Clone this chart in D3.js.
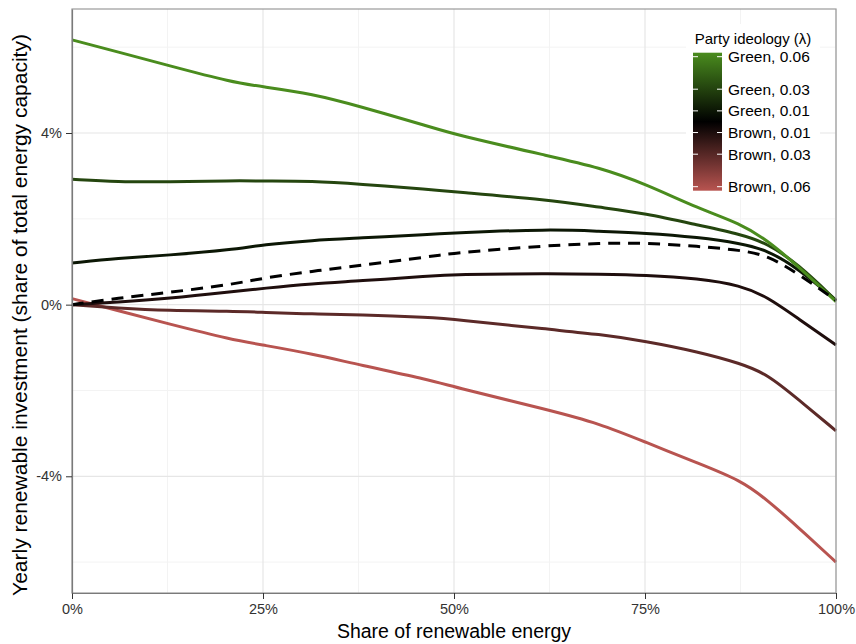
<!DOCTYPE html>
<html>
<head>
<meta charset="utf-8">
<script src="https://cdn.jsdelivr.net/npm/d3@7"></script>
<style>
  body { margin: 0; background: #fff; }
  svg text { font-family: "Liberation Sans", Arial, sans-serif; }
</style>
</head>
<body>
<svg id="chart" width="856" height="644"></svg>
<script>
// Share of renewable energy (%) where each curve was read
const shareX = [0, 6, 12.5, 21, 25, 31.5, 37.5, 47, 50, 62.5, 69, 75, 82, 87.5, 91, 95, 100];

// Yearly renewable investment (%) per party ideology
const green06 = [6.17, 5.89, 5.58, 5.18, 5.08, 4.91, 4.63, 4.14, 3.97, 3.46, 3.20, 2.82, 2.24, 1.89, 1.50, 0.90, 0.07];
const green03 = [2.92, 2.86, 2.86, 2.89, 2.88, 2.88, 2.81, 2.68, 2.63, 2.44, 2.27, 2.13, 1.85, 1.64, 1.43, 0.95, 0.10];
const green01 = [0.97, 1.08, 1.15, 1.28, 1.40, 1.50, 1.55, 1.64, 1.67, 1.76, 1.71, 1.67, 1.57, 1.43, 1.27, 0.85, 0.10];
const brown01 = [0.00, 0.06, 0.14, 0.30, 0.38, 0.49, 0.55, 0.67, 0.70, 0.73, 0.71, 0.69, 0.61, 0.45, 0.18, -0.32, -0.94];
const brown03 = [0.00, -0.08, -0.14, -0.15, -0.18, -0.22, -0.23, -0.30, -0.34, -0.58, -0.69, -0.85, -1.10, -1.37, -1.62, -2.20, -2.94];
const brown06 = [0.14, -0.14, -0.44, -0.82, -0.94, -1.15, -1.40, -1.76, -1.92, -2.46, -2.77, -3.20, -3.70, -4.09, -4.55, -5.18, -6.00];
// dashed reference curve
const neutral = [0.00, 0.15, 0.28, 0.47, 0.62, 0.78, 0.91, 1.12, 1.21, 1.38, 1.43, 1.44, 1.36, 1.27, 1.15, 0.73, 0.10];

const lambdas = [0.06, 0.03, 0.01, -0.01, -0.03, -0.06];
const legendLabels = ["Green, 0.06", "Green, 0.03", "Green, 0.01", "Brown, 0.01", "Brown, 0.03", "Brown, 0.06"];
const seriesValues = [green06, green03, green01, brown01, brown03, brown06];

const xTicks = [0, 25, 50, 75, 100];
const xMinor = [12.5, 37.5, 62.5, 87.5];
const yTicks = [-4, 0, 4];
const yMinor = [-6, -2, 2, 6];

const svg = d3.select('#chart');
const pLeft = 72, pRight = 836, pTop = 9, pBottom = 593;

const x = d3.scaleLinear().domain([0, 100]).range([pLeft, pRight]);
const y = d3.scaleLinear().domain([-6.72, 6.89]).range([pBottom, pTop]);
const color = d3.scaleLinear()
    .domain([-0.06, 0, 0.06])
    .range(['#b85450', '#000000', '#4a8c1e']);

// grid
const grid = svg.append('g');
grid.selectAll('.vmin').data(xMinor).enter().append('line')
    .attr('x1', d => x(d)).attr('x2', d => x(d))
    .attr('y1', pTop).attr('y2', pBottom)
    .attr('stroke', '#f3f3f3').attr('stroke-width', 1);
grid.selectAll('.hmin').data(yMinor).enter().append('line')
    .attr('y1', d => y(d)).attr('y2', d => y(d))
    .attr('x1', pLeft).attr('x2', pRight)
    .attr('stroke', '#f3f3f3').attr('stroke-width', 1);
grid.selectAll('.vmaj').data(xTicks).enter().append('line')
    .attr('x1', d => x(d)).attr('x2', d => x(d))
    .attr('y1', pTop).attr('y2', pBottom)
    .attr('stroke', '#e6e6e6').attr('stroke-width', 1.2);
grid.selectAll('.hmaj').data(yTicks).enter().append('line')
    .attr('y1', d => y(d)).attr('y2', d => y(d))
    .attr('x1', pLeft).attr('x2', pRight)
    .attr('stroke', '#e6e6e6').attr('stroke-width', 1.2);

// lines
const line = d3.line()
    .x((d, i) => x(shareX[i]))
    .y(d => y(d))
    .curve(d3.curveBasis);

svg.append('g').selectAll('path')
    .data(seriesValues.slice().reverse())
    .enter().append('path')
    .attr('d', d => line(d))
    .attr('fill', 'none')
    .attr('stroke', (d, i) => color(lambdas[lambdas.length - 1 - i]))
    .attr('stroke-width', 3);

svg.append('path')
    .attr('d', line(neutral))
    .attr('fill', 'none')
    .attr('stroke', '#000')
    .attr('stroke-width', 3)
    .attr('stroke-dasharray', '12,8');

// panel border
svg.append('rect')
    .attr('x', pLeft).attr('y', pTop)
    .attr('width', pRight - pLeft).attr('height', pBottom - pTop)
    .attr('fill', 'none').attr('stroke', '#9a9a9a').attr('stroke-width', 1.2);

// axes
const xAxis = svg.append('g')
    .attr('transform', `translate(0,${pBottom})`)
    .call(d3.axisBottom(x).tickValues(xTicks).tickFormat(d => d + '%')
      .tickSize(6).tickSizeOuter(0).tickPadding(5));
const yAxis = svg.append('g')
    .attr('transform', `translate(${pLeft},0)`)
    .call(d3.axisLeft(y).tickValues(yTicks).tickFormat(d => d + '%')
      .tickSize(6).tickSizeOuter(0).tickPadding(4));
[xAxis, yAxis].forEach(a => {
  a.select('.domain').attr('stroke', '#7a7a7a').attr('stroke-width', 1.2);
  a.selectAll('.tick line').attr('stroke', '#333');
  a.selectAll('.tick text').attr('fill', '#333').style('font-size', '14.5px')
    .style('font-family', '"Liberation Sans", Arial, sans-serif');
});

svg.append('text')
    .attr('x', (pLeft + pRight) / 2).attr('y', 638)
    .attr('text-anchor', 'middle')
    .style('font-size', '19.5px')
    .text('Share of renewable energy');

svg.append('text')
    .attr('transform', `translate(27,315) rotate(-90)`)
    .attr('text-anchor', 'middle')
    .style('font-size', '21px')
    .text('Yearly renewable investment (share of total energy capacity)');

// legend
const lg = svg.append('g');
lg.append('rect')
    .attr('x', 686).attr('y', 24).attr('width', 134).attr('height', 174)
    .attr('fill', '#fff');
lg.append('text')
    .attr('x', 753).attr('y', 44)
    .attr('text-anchor', 'middle')
    .style('font-size', '15px')
    .text('Party ideology (λ)');

const ly = d3.scaleLinear().domain([0.06, -0.06]).range([56.7, 186.7]);
const defs = svg.append('defs');
const grad = defs.append('linearGradient')
    .attr('id', 'lgrad').attr('x1', 0).attr('x2', 0).attr('y1', 0).attr('y2', 1);
d3.range(0, 1.0001, 0.1).forEach(t => {
  grad.append('stop').attr('offset', t).attr('stop-color', color(0.06 - 0.12 * t));
});
lg.append('rect')
    .attr('x', 693).attr('y', ly(0.06) - 4)
    .attr('width', 29).attr('height', ly(-0.06) - ly(0.06) + 8)
    .attr('fill', 'url(#lgrad)');
lg.selectAll('.tk').data(lambdas).enter().append('g').each(function(d) {
  const g = d3.select(this);
  g.append('line').attr('x1', 693).attr('x2', 698)
    .attr('y1', ly(d)).attr('y2', ly(d)).attr('stroke', '#fff').attr('stroke-width', 1);
  g.append('line').attr('x1', 717).attr('x2', 722)
    .attr('y1', ly(d)).attr('y2', ly(d)).attr('stroke', '#fff').attr('stroke-width', 1);
});
lg.selectAll('.lab').data(lambdas).enter().append('text')
    .attr('x', 728).attr('y', d => ly(d)).attr('dy', '0.35em')
    .style('font-size', '15.5px')
    .text((d, i) => legendLabels[i]);
</script>
</body>
</html>
